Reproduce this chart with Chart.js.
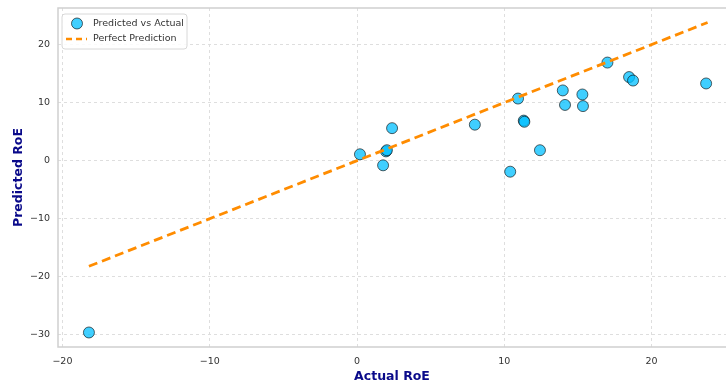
<!DOCTYPE html>
<html lang="en">
<head>
    <meta charset="UTF-8">
    <title>Predicted vs Actual RoE</title>
    <style>
        body { margin: 0; background: white; overflow: hidden; }
        #wrap { width: 726px; height: 385px; }
    </style>
</head>
<body>
    <div id="wrap"><canvas id="roeChart"></canvas></div>
    <script src="https://cdn.jsdelivr.net/npm/chart.js"></script>
    <script>
        // actual vs predicted RoE
        const actualRoe = [-18.2, 0.2, 1.77, 1.97, 2.03, 2.38, 8.0, 10.4, 10.93, 11.32, 11.36, 12.42,
                           13.97, 14.12, 15.3, 15.34, 17.0, 18.47, 18.74, 23.7];
        const predictedRoe = [-29.6, 1.1, -0.8, 1.6, 1.8, 5.6, 6.2, -1.9, 10.7, 6.9, 6.7, 1.8,
                              12.1, 9.6, 11.4, 9.4, 16.9, 14.4, 13.8, 13.3];
        const perfectLine = [-18.2, 23.8];
        const xTicks = [-20, -10, 0, 10, 20];
        const yTicks = [-30, -20, -10, 0, 10, 20];

        const font = 'DejaVu Sans';
        const pointFill = 'rgba(0, 191, 255, 0.75)';
        const orange = '#ff8c00';

        const minus = v => String(v).replace('-', '\u2212');

        // matplotlib-like frame (right side is cut off in the original) and legend box
        const framePlugin = {
            id: 'frame',
            afterDatasetsDraw(chart) {
                const { ctx, chartArea: a } = chart;
                ctx.save();
                ctx.strokeStyle = '#d0d0d0';
                ctx.lineWidth = 1.5;
                ctx.beginPath();
                ctx.moveTo(a.right, a.top);
                ctx.lineTo(a.left, a.top);
                ctx.lineTo(a.left, a.bottom);
                ctx.lineTo(a.right, a.bottom);
                ctx.stroke();

                // legend
                const lx = a.left + 4, ly = a.top + 6, lw = 125, lh = 35;
                ctx.fillStyle = 'rgba(255,255,255,0.85)';
                ctx.strokeStyle = '#d8d8d8';
                ctx.lineWidth = 1;
                ctx.beginPath();
                ctx.roundRect(lx, ly, lw, lh, 3);
                ctx.fill();
                ctx.stroke();

                ctx.beginPath();
                ctx.arc(lx + 15, ly + 9.5, 5.5, 0, Math.PI * 2);
                ctx.fillStyle = pointFill;
                ctx.fill();
                ctx.strokeStyle = 'rgba(0,0,0,0.6)';
                ctx.lineWidth = 1;
                ctx.stroke();

                ctx.beginPath();
                ctx.setLineDash([6, 4]);
                ctx.strokeStyle = orange;
                ctx.lineWidth = 2.5;
                ctx.moveTo(lx + 4, ly + 25);
                ctx.lineTo(lx + 25, ly + 25);
                ctx.stroke();
                ctx.setLineDash([]);

                ctx.fillStyle = '#333';
                ctx.font = '9.5px "' + font + '"';
                ctx.textBaseline = 'middle';
                ctx.fillText('Predicted vs Actual', lx + 31, ly + 9.5);
                ctx.fillText('Perfect Prediction', lx + 31, ly + 25);
                ctx.restore();
            }
        };

        const ctx = document.getElementById('roeChart').getContext('2d');
        new Chart(ctx, {
            type: 'scatter',
            data: {
                datasets: [
                    {
                        label: 'Perfect Prediction',
                        type: 'line',
                        data: perfectLine.map(v => ({ x: v, y: v })),
                        borderColor: orange,
                        borderWidth: 2.8,
                        borderDash: [9, 5],
                        pointRadius: 0,
                        fill: false,
                        order: 0
                    },
                    {
                        label: 'Predicted vs Actual',
                        data: actualRoe.map((v, i) => ({ x: v, y: predictedRoe[i] })),
                        backgroundColor: pointFill,
                        borderColor: 'rgba(0,0,0,0.6)',
                        borderWidth: 1,
                        pointRadius: 5.5,
                        order: 1
                    }
                ]
            },
            options: {
                responsive: true,
                maintainAspectRatio: false,
                animation: false,
                layout: { autoPadding: false, padding: { top: 8, right: 0, left: 0, bottom: 0 } },
                plugins: {
                    legend: { display: false },
                    tooltip: { enabled: false }
                },
                scales: {
                    x: {
                        type: 'linear',
                        min: -20.3,
                        max: 25.05,
                        afterBuildTicks: s => { s.ticks = xTicks.map(v => ({ value: v })); },
                        afterFit: s => { s.height = 38; s.paddingLeft = 0; s.paddingRight = 0; },
                        grid: { color: '#dedede', drawTicks: false, lineWidth: 1 },
                        border: { display: false, dash: [3, 3] },
                        ticks: {
                            color: '#333',
                            padding: 9,
                            font: { family: font, size: 9.5 },
                            callback: v => minus(v)
                        },
                        title: {
                            display: true,
                            text: 'Actual RoE',
                            color: '#0a0a8a',
                            font: { family: font, size: 12.5, weight: 'bold' },
                            padding: { top: 0, bottom: 1 }
                        }
                    },
                    y: {
                        type: 'linear',
                        min: -32.1,
                        max: 26.3,
                        afterBuildTicks: s => { s.ticks = yTicks.map(v => ({ value: v })); },
                        afterFit: s => { s.width = 58; s.paddingTop = 0; s.paddingBottom = 0; },
                        grid: { color: '#dedede', drawTicks: false, lineWidth: 1 },
                        border: { display: false, dash: [3, 3] },
                        ticks: {
                            color: '#333',
                            padding: 8,
                            font: { family: font, size: 9.5 },
                            callback: v => minus(v)
                        },
                        title: {
                            display: true,
                            text: 'Predicted RoE',
                            color: '#0a0a8a',
                            font: { family: font, size: 12.5, weight: 'bold' },
                            padding: { top: 11, bottom: 0 }
                        }
                    }
                }
            },
            plugins: [framePlugin]
        });
    </script>
</body>
</html>
